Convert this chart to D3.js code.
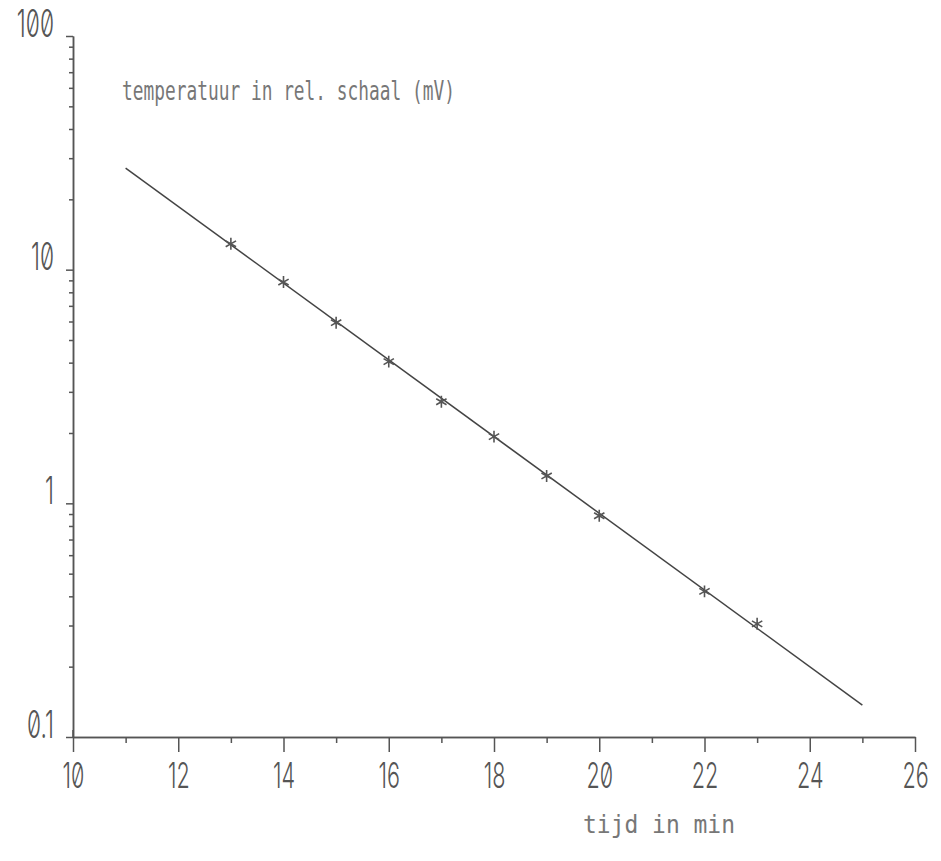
<!DOCTYPE html>
<html>
<head>
<meta charset="utf-8">
<script src="https://cdn.jsdelivr.net/npm/d3@7"></script>
<style>
  body { margin: 0; background: #fff; }
  .tick-label { font-family: Inter, "DejaVu Sans", sans-serif; font-weight: 300; font-variant-numeric: slashed-zero; fill: #555; }
  .plot-text { font-family: "DejaVu Sans Mono", monospace; fill: #777; }
</style>
</head>
<body>
<div id="vis_container"></div>
<script>
// Measured points: time (min) and temperature on a relative scale (mV).
var time_min = [13, 14, 15, 16, 17, 18, 19, 20, 22, 23];
var temp_mv = [12.9, 8.85, 5.93, 4.04, 2.72, 1.93, 1.31, 0.885, 0.42, 0.305];

var fit_time = [11, 25];
var fit_temp = [27.2, 0.137];

// Tick values.
var x_major = [10, 12, 14, 16, 18, 20, 22, 24, 26];
var x_minor = [11, 13, 15, 17, 19, 21, 23, 25];
var y_major = [0.1, 1, 10, 100];
var y_labels = ["0.1", "1", "10", "100"];
var y_minor = [];
[0.1, 1, 10].forEach(function(d) {
	for (var k = 2; k <= 9; k++) y_minor.push(d * k);
});

var width = 941;
var height = 861;

var x = d3.scaleLinear()
	.domain([10, 26])
	.range([73, 915]);

var y = d3.scaleLog()
	.domain([0.1, 100])
	.range([737, 36]);

var svg = d3.select("#vis_container")
	.append("svg")
	.attr("width", width)
	.attr("height", height);

var axis_color = "#555";
var squeeze = 0.6;

// X axis: long ticks on even minutes, short ones on odd minutes.
var x_axis = svg.append("g")
	.attr("transform", "translate(0,737)")
	.call(d3.axisBottom(x).tickValues(x_major).tickSize(15).tickSizeOuter(0));

svg.append("g")
	.attr("transform", "translate(0,737)")
	.call(d3.axisBottom(x).tickValues(x_minor).tickSize(6).tickSizeOuter(0).tickFormat(""));

// small cross at the origin
svg.append("line")
	.attr("x1", x(10)).attr("x2", x(10))
	.attr("y1", y(0.1) - 7).attr("y2", y(0.1))
	.attr("stroke", axis_color).attr("stroke-width", 1.5);

x_axis.selectAll("text")
	.attr("class", "tick-label")
	.attr("y", 51)
	.attr("dy", 0)
	.attr("transform", "scale(" + squeeze + ",1)")
	.style("font-size", "36px")
	.text(function(d) { return d; });

// Y axis (log), decade ticks with labels and minor ticks in between.
var y_axis = svg.append("g")
	.attr("transform", "translate(73,0)")
	.call(d3.axisLeft(y).tickValues(y_major).tickSize(7).tickSizeOuter(0)
		.tickFormat(function(d, i) { return y_labels[i]; }));

svg.append("g")
	.attr("transform", "translate(73,0)")
	.call(d3.axisLeft(y).tickValues(y_minor).tickSize(4).tickSizeOuter(0).tickFormat(""));

y_axis.selectAll("text")
	.attr("class", "tick-label")
	.attr("x", -19 / squeeze)
	.attr("dy", 0)
	.attr("transform", "scale(" + squeeze + ",1)")
	.style("font-size", "38px")
	.style("text-anchor", "end");

svg.selectAll(".domain, .tick line")
	.attr("stroke", axis_color)
	.attr("stroke-width", 1.5);

// Fitted line.
var line = d3.line()
	.x(function(d) { return x(d[0]); })
	.y(function(d) { return y(d[1]); });

svg.append("path")
	.datum(d3.zip(fit_time, fit_temp))
	.attr("d", line)
	.attr("fill", "none")
	.attr("stroke", "#444")
	.attr("stroke-width", 1.5);

// Measured points as asterisks.
svg.selectAll(".star")
	.data(d3.zip(time_min, temp_mv))
	.enter().append("path")
	.attr("class", "star")
	.attr("transform", function(d) { return "translate(" + x(d[0]) + "," + y(d[1]) + ")"; })
	.attr("d", d3.symbol().type(d3.symbolAsterisk).size(100))
	.attr("fill", "none")
	.attr("stroke", "#555")
	.attr("stroke-width", 1.6);

// Labels.
svg.append("text")
	.attr("class", "plot-text")
	.attr("x", 122)
	.attr("y", 100)
	.attr("textLength", 333)
	.attr("lengthAdjust", "spacingAndGlyphs")
	.style("font-size", "27px")
	.text("temperatuur in rel. schaal (mV)");

svg.append("text")
	.attr("class", "plot-text")
	.attr("x", 583)
	.attr("y", 833)
	.attr("textLength", 152)
	.attr("lengthAdjust", "spacingAndGlyphs")
	.style("font-size", "25px")
	.text("tijd in min");
</script>
</body>
</html>
